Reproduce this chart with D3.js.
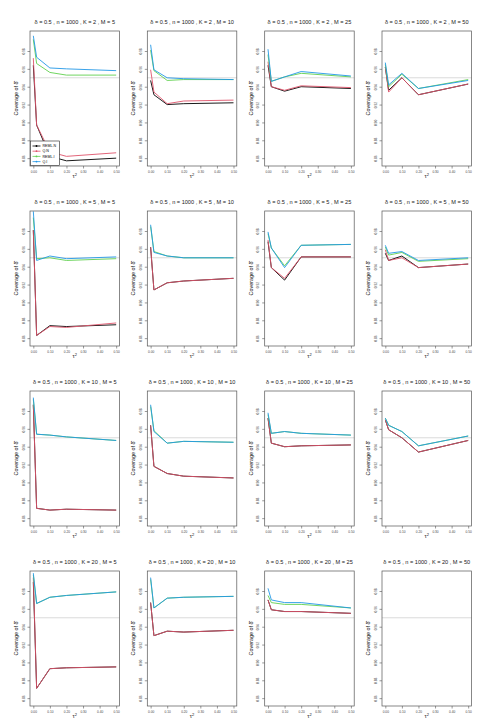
<!DOCTYPE html>
<html><head><meta charset="utf-8">
<script src="https://cdn.jsdelivr.net/npm/d3@7"></script>
<style>body{margin:0;background:#fff}svg{display:block}</style>
</head><body>
<script>
const tau2 = [0, 0.02, 0.1, 0.2, 0.5];
const Kvals = [2, 5, 10, 20];
const Mvals = [5, 10, 25, 50];
const methods = ["REML.N", "Q.N", "REML.I", "Q.I"];
const colors = ["#000000", "#DF536B", "#61D04F", "#2297E6"];
const xTicks = [0, 0.1, 0.2, 0.3, 0.4, 0.5];
const yTicks = [0.86, 0.88, 0.90, 0.92, 0.94, 0.96, 0.98];
const nominal = 0.95;

// one row per panel (K-major, then M); null = no results
const remlN = [
  [0.964,0.897,0.862,0.857,0.860],[0.947,0.931,0.920,0.921,0.922],[0.964,0.940,0.935,0.940,0.938],[0.962,0.936,0.950,0.931,0.943],
  [0.981,0.863,0.874,0.873,0.875],[0.962,0.914,0.922,0.924,0.927],[0.968,0.939,0.925,0.951,0.951],[0.955,0.947,0.952,0.939,0.943],
  [0.987,0.871,0.869,0.870,0.869],[0.964,0.918,0.910,0.907,0.905],[0.972,0.944,0.940,0.941,0.942],[0.970,0.959,0.950,0.934,0.947],
  [0.990,0.871,0.893,0.894,0.895],[0.967,0.930,0.935,0.934,0.936],[0.970,0.959,0.957,0.957,0.955],null];
const qN = [
  [0.972,0.897,0.867,0.862,0.866],[0.959,0.934,0.921,0.924,0.925],[0.968,0.940,0.936,0.941,0.939],[0.962,0.934,0.950,0.931,0.943],
  [0.981,0.863,0.873,0.872,0.877],[0.962,0.914,0.922,0.924,0.927],[0.970,0.939,0.927,0.951,0.951],[0.959,0.947,0.950,0.939,0.943],
  [0.987,0.871,0.869,0.870,0.869],[0.964,0.918,0.910,0.907,0.905],[0.972,0.944,0.940,0.941,0.942],[0.970,0.959,0.950,0.934,0.947],
  [0.995,0.871,0.893,0.894,0.895],[0.967,0.930,0.935,0.934,0.936],[0.970,0.959,0.957,0.957,0.955],null];
const remlI = [
  [0.993,0.966,0.956,0.953,0.953],[0.981,0.958,0.947,0.948,0.948],[0.976,0.946,0.951,0.955,0.951],[0.965,0.940,0.954,0.938,0.948],
  [0.995,0.949,0.950,0.947,0.949],[0.985,0.957,0.952,0.950,0.950],[0.977,0.961,0.941,0.964,0.965],[0.962,0.953,0.956,0.946,0.949],
  [0.993,0.954,0.953,0.951,0.947],[0.985,0.958,0.944,0.946,0.945],[0.976,0.955,0.957,0.955,0.953],[0.972,0.964,0.957,0.941,0.952],
  [0.998,0.966,0.973,0.975,0.979],[0.993,0.961,0.972,0.973,0.974],[0.975,0.967,0.965,0.965,0.961],null];
const qI = [
  [0.997,0.973,0.961,0.960,0.958],[0.987,0.959,0.950,0.949,0.948],[0.982,0.946,0.951,0.957,0.952],[0.967,0.942,0.955,0.938,0.947],
  [1.002,0.947,0.952,0.949,0.951],[0.987,0.956,0.952,0.950,0.950],[0.979,0.961,0.939,0.964,0.965],[0.964,0.955,0.957,0.947,0.950],
  [0.995,0.954,0.953,0.951,0.947],[0.987,0.957,0.944,0.946,0.945],[0.978,0.955,0.957,0.955,0.953],[0.972,0.964,0.957,0.941,0.952],
  [1.000,0.966,0.973,0.975,0.979],[0.995,0.961,0.972,0.973,0.974],[0.983,0.970,0.967,0.967,0.961],null];
const seriesList = [remlN, qN, remlI, qI];

const W = 495, H = 726;
const svg = d3.select("body").append("svg").attr("width", W).attr("height", H)
  .style("font-family", "'Liberation Sans', Arial, sans-serif");

const colLeft = [30, 147.3, 264.7, 382];
const rowTop = [31, 211, 391, 571];
const pw = 89.5, ph = 135;

const x = d3.scaleLinear().domain([-0.02, 0.52]).range([0, pw]);
const y = d3.scaleLinear().domain([0.8512, 1.0024]).range([ph, 0]);
const line = d3.line().x((d, i) => x(tau2[i])).y(d => y(d));

Kvals.forEach((K, r) => {
  Mvals.forEach((M, c) => {
    const idx = r * 4 + c;
    const g = svg.append("g").attr("transform", `translate(${colLeft[c]},${rowTop[r]})`);
    // title
    g.append("text").attr("x", pw / 2).attr("y", -7.5).attr("text-anchor", "middle")
      .attr("font-size", 5.6).attr("fill", "#222")
      .text(`δ = 0.5 , n = 1000 , K = ${K} , M = ${M}`);
    // x axis
    const xa = g.append("g").attr("transform", `translate(0,${ph})`)
      .call(d3.axisBottom(x).tickValues(xTicks).tickFormat(d3.format(".2f")).tickSize(2.5).tickPadding(2));
    xa.select(".domain").remove();
    xa.selectAll("line").attr("stroke", "#333").attr("stroke-width", 0.5);
    xa.selectAll("text").attr("font-size", 3.2).attr("fill", "#444").attr("font-family", "'Liberation Sans', Arial, sans-serif");
    // y axis
    const ya = g.append("g")
      .call(d3.axisLeft(y).tickValues(yTicks).tickFormat(d3.format(".2f")).tickSize(2.5).tickPadding(2));
    ya.select(".domain").remove();
    ya.selectAll("line").attr("stroke", "#333").attr("stroke-width", 0.5);
    ya.selectAll("text").attr("font-size", 3.2).attr("fill", "#444")
      .attr("font-family", "'Liberation Sans', Arial, sans-serif")
      .attr("text-anchor", "middle").attr("dy", 0).attr("x", 0)
      .attr("transform", "translate(-5.5,0) rotate(-90)");
    // axis labels
    g.append("text").attr("transform", `translate(-12,${ph / 2}) rotate(-90)`)
      .attr("text-anchor", "middle").attr("font-size", 5.4).attr("fill", "#111")
      .text("Coverage of δ\u0302");
    g.append("text").attr("x", pw / 2).attr("y", ph + 12).attr("text-anchor", "middle")
      .attr("font-size", 5.6).attr("fill", "#111").html("τ<tspan dy='-2' font-size='4'>2</tspan>");
    // nominal line
    g.append("line").attr("x1", 0).attr("x2", pw).attr("y1", y(nominal)).attr("y2", y(nominal))
      .attr("stroke", "#cfcfcf").attr("stroke-width", 0.8);
    // series
    seriesList.forEach((s, k) => {
      if (!s[idx]) return;
      g.append("path").datum(s[idx]).attr("d", line).attr("fill", "none")
        .attr("stroke", colors[k]).attr("stroke-width", 0.9).attr("stroke-linejoin", "round");
    });
    // box
    g.append("rect").attr("width", pw).attr("height", ph).attr("fill", "none")
      .attr("stroke", "#555").attr("stroke-width", 0.7);
    // legend in first panel
    if (idx === 0) {
      const lg = g.append("g").attr("transform", `translate(0.5,${ph - 25})`);
      lg.append("rect").attr("width", 29).attr("height", 24.5).attr("fill", "#fff")
        .attr("stroke", "#222").attr("stroke-width", 0.6);
      methods.forEach((m, k) => {
        const yy = 5 + k * 5.2;
        lg.append("line").attr("x1", 2).attr("x2", 10).attr("y1", yy).attr("y2", yy)
          .attr("stroke", colors[k]).attr("stroke-width", 0.8);
        lg.append("circle").attr("cx", 6).attr("cy", yy).attr("r", 0.9).attr("fill", colors[k]);
        lg.append("text").attr("x", 12).attr("y", yy + 1.2).attr("font-size", 3.6)
          .attr("fill", "#000").text(m);
      });
    }
  });
});
</script>
</body></html>
